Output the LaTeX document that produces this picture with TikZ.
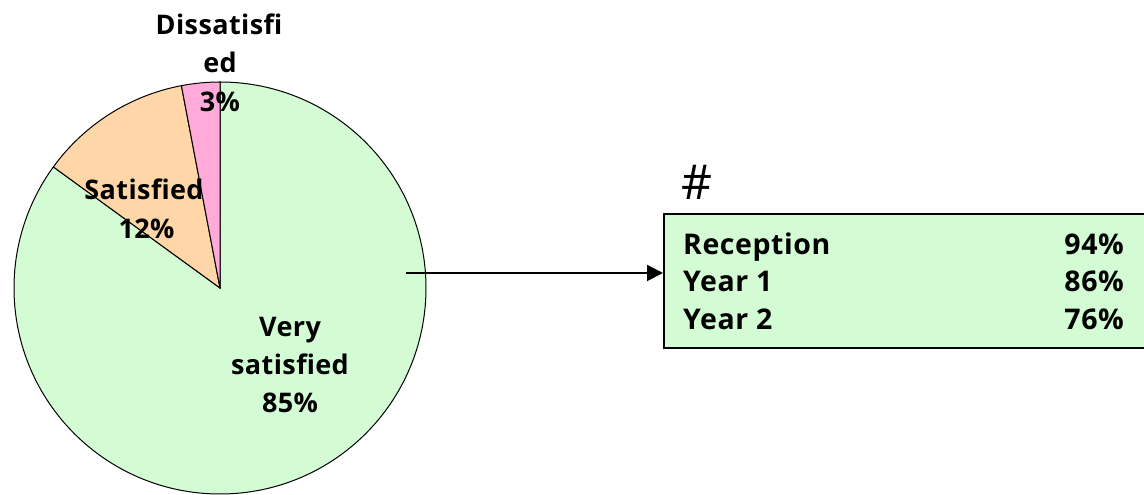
\documentclass[tikz,border=0pt]{standalone}
\usepackage{fontspec}
\setmainfont{Open Sans}
\usetikzlibrary{arrows.meta}
\definecolor{vsgreen}{RGB}{212,252,212}
\definecolor{satorange}{RGB}{255,214,168}
\definecolor{dispink}{RGB}{255,170,216}
\begin{document}
\begin{tikzpicture}[x=1pt,y=1pt,
  lbl/.style={font=\bfseries\fontsize{27}{38}\selectfont\addfontfeature{LetterSpace=1.5}, inner sep=0pt, anchor=base},
  rowtxt/.style={font=\bfseries\fontsize{28.5}{38}\selectfont\addfontfeature{LetterSpace=2}, inner sep=0pt},
  slice/.style={draw=black, line width=1pt}]
\useasboundingbox (0,0) rectangle (1144,495);
\coordinate (c) at (220,207);
\draw[slice, fill=vsgreen] (c) -- ++(90:206) arc[start angle=90, end angle=-216, radius=206] -- cycle;
\draw[slice, fill=satorange] (c) -- ++(144:206) arc[start angle=144, end angle=100.8, radius=206] -- cycle;
\draw[slice, fill=dispink] (c) -- ++(100.8:206) arc[start angle=100.8, end angle=90, radius=206] -- cycle;
% pie labels
\node[lbl] (d1) at (219,460) {Dissatisfi};
\node[lbl] (d2) at (220,422) {ed};
\node[lbl] (d3) at (220,383) {3\%};
\node[lbl] (s1) at (144,295) {Satisfied};
\node[lbl] (s2) at (146.5,256) {12\%};
\node[lbl] (v1) at (290,158) {Very};
\node[lbl] (v2) at (290,120) {satisfied};
\node[lbl] (v3) at (290,82) {85\%};
% box
\node[draw=black, line width=2pt, fill=vsgreen, anchor=north west, minimum width=490, minimum height=134, inner sep=0pt] (box) at (663,282) {};
\node[font=\fontsize{48}{50}\selectfont, anchor=base west, inner sep=0pt] (hash) at (681,295) {\#};
\node[rowtxt, anchor=base west] (r1) at (683,240) {Reception};
\node[rowtxt, anchor=base west] (r2) at (683,203) {Year 1};
\node[rowtxt, anchor=base west] (r3) at (683,165) {Year 2};
\node[rowtxt, anchor=base east] (p1) at (1124,240) {94\%};
\node[rowtxt, anchor=base east] (p2) at (1124,203) {86\%};
\node[rowtxt, anchor=base east] (p3) at (1124,165) {76\%};
% arrow
\coordinate (a0) at (406,222);
\draw[line width=2pt, -{Triangle[length=16pt, width=16pt]}] (a0) -- (a0 -| box.west);
\end{tikzpicture}
\end{document}
